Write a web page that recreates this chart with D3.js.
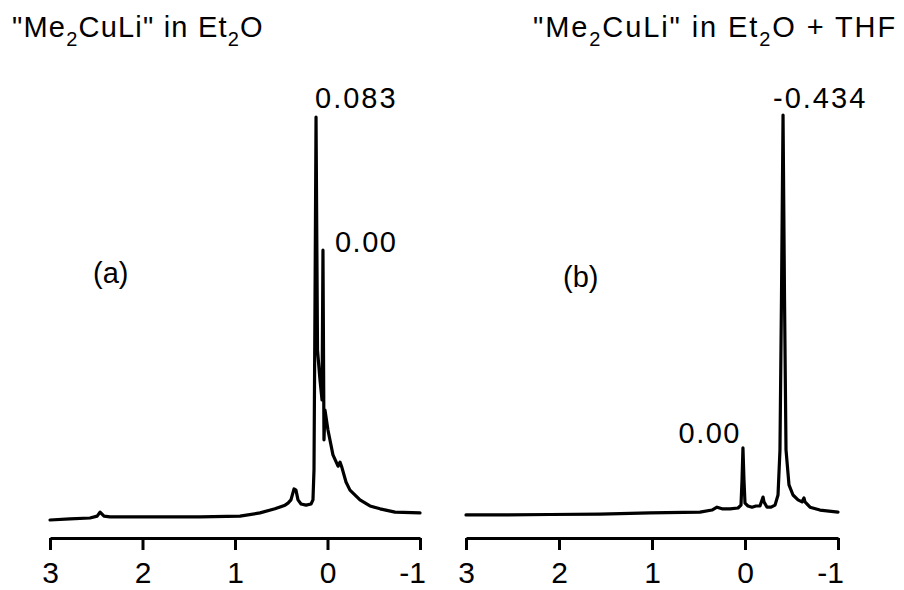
<!DOCTYPE html>
<html>
<head>
<meta charset="utf-8">
<title>Me2CuLi NMR</title>
<script src="https://d3js.org/d3.v7.min.js"></script>
<style>
  body { margin: 0; background: #fff; }
  svg text { font-family: "Liberation Sans", Arial, sans-serif; fill: #000; }
</style>
</head>
<body>
<div id="chart"></div>
<script>
// ppm positions and relative intensities
var ppmA = [3.00, 2.784, 2.568, 2.49, 2.459, 2.416, 2.351, 1.919, 1.378, 0.946, 0.730, 0.568, 0.459, 0.427,
    0.395, 0.362, 0.341, 0.319, 0.286, 0.232, 0.178, 0.157, 0.146, 0.135, 0.124, 0.108, 0.081, 0.059,
    0.049, 0.038, 0.027, -0.005, -0.059, -0.114, -0.135, -0.157, -0.200, -0.243, -0.351, -0.459,
    -0.568, -0.730, -1.00];
var intA = [0.25, 0.5, 0.74, 1.2, 2.2, 1.2, 1.0, 1.0, 1.0, 1.2, 2.0, 3.0, 3.9, 4.4,
    5.2, 7.9, 7.6, 5.2, 4.2, 3.9, 4.2, 5.2, 12.6, 54.4, 99.5, 42.1, 34.7, 29.8,
    66.7, 20.0, 27.3, 22.4, 16.3, 13.5, 14.5, 13.1, 9.6, 7.6, 5.2, 3.7,
    3.0, 2.2, 2.0];

var ppmB = [3.00, 2.634, 2.097, 1.559, 1.022, 0.484, 0.355, 0.301, 0.247, 0.161, 0.075, 0.043, 0.032,
    0.022, 0.011, 0.00, -0.032, -0.075, -0.118, -0.161, -0.183, -0.194, -0.204, -0.237, -0.280,
    -0.323, -0.355, -0.376, -0.392, -0.409, -0.425, -0.441, -0.473, -0.516, -0.570, -0.613, -0.634,
    -0.645, -0.699, -0.806, -1.00];
var intB = [1.5, 1.5, 1.6, 1.7, 2.0, 2.2, 2.7, 3.4, 3.0, 3.0, 3.2, 3.9, 10.1,
    18.0, 10.1, 4.4, 3.7, 3.4, 3.7, 3.7, 5.2, 5.9, 4.7, 3.4, 3.4,
    3.9, 6.4, 17.5, 54.4, 100, 54.4, 17.5, 8.9, 6.4, 5.2, 4.7, 5.7,
    4.7, 3.4, 2.7, 2.2];

var tickVals = [3, 2, 1, 0, -1];
var titles = ["\"Me", "2", "CuLi\" in Et", "2", "O"];
var titleB = " + THF";
var panelTags = ["(a)", "(b)"];
// peak labels: [ppm, intensity, text]
var labelsA = [[0.124, 99.5, "0.083"], [0.049, 66.7, "0.00"]];
var labelsB = [[-0.409, 100, "-0.434"], [0.022, 18.0, "0.00"]];

var W = 904, H = 590;
var svg = d3.select("#chart").append("svg")
    .attr("width", W).attr("height", H);

var y = d3.scaleLinear().domain([0, 100]).range([521, 115]);
var axisY = 538;

function drawPanel(x0, x1, ppm, inten, labels, tag, tagPos, extra, titleX, titleSpacing) {
    var x = d3.scaleLinear().domain([3, -1]).range([x0, x1]);
    var pts = ppm.map(function(p, i) { return [p, inten[i]]; });

    var line = d3.line()
        .x(function(d) { return x(d[0]); })
        .y(function(d) { return y(d[1]); });

    svg.append("path")
        .datum(pts)
        .attr("d", line)
        .attr("fill", "none")
        .attr("stroke", "#000")
        .attr("stroke-width", 3.2)
        .attr("stroke-linejoin", "round")
        .attr("stroke-linecap", "round");

    var ax = svg.append("g")
        .attr("transform", "translate(0," + axisY + ")")
        .call(d3.axisBottom(x)
            .tickValues(tickVals)
            .tickSize(12)
            .tickSizeOuter(0)
            .tickPadding(12)
            .tickFormat(function(d) { return String(d); }));
    ax.select(".domain").attr("stroke-width", 3);
    ax.selectAll(".tick line").attr("stroke-width", 3);
    ax.selectAll(".tick text")
        .attr("font-size", 30)
        .attr("font-family", "Liberation Sans, Arial, sans-serif")
        .attr("dx", function(d) { return d < 0 ? -8 : 0; });

    // peak labels
    labels.forEach(function(l) {
        var t = svg.append("text")
            .attr("font-size", 29)
            .attr("letter-spacing", 2)
            .text(l[2]);
        var px = x(l[0]), py = y(l[1]);
        if (l[2] === "0.083") t.attr("x", px - 1).attr("y", py - 9);
        else if (l[2] === "-0.434") t.attr("x", px - 10).attr("y", py - 7);
        else if (tag === "(a)") t.attr("x", px + 12).attr("y", py + 2).attr("letter-spacing", 1.5);
        else t.attr("x", px - 2).attr("y", py - 5).attr("text-anchor", "end").attr("letter-spacing", 1.5);
    });

    svg.append("text")
        .attr("x", tagPos[0]).attr("y", tagPos[1])
        .attr("font-size", 29)
        .text(tag);

    // title with subscripts
    var tt = svg.append("text")
        .attr("x", titleX).attr("y", 37)
        .attr("font-size", 29)
        .attr("letter-spacing", titleSpacing);
    titles.forEach(function(s, i) {
        var sub = s === "2";
        tt.append("tspan")
            .attr("font-size", sub ? 20 : 29)
            .attr("dy", sub ? 9 : (i > 0 ? -9 : 0))
            .text(s);
    });
    if (extra) tt.append("tspan").text(extra);
}

drawPanel(50, 420, ppmA, intA, labelsA, panelTags[0], [93, 283], null, 12, 1.2);
drawPanel(466, 838, ppmB, intB, labelsB, panelTags[1], [563, 287], titleB, 533, 1.9);
</script>
</body>
</html>
